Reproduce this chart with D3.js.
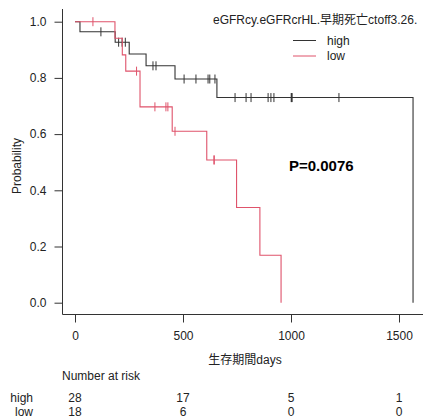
<!DOCTYPE html>
<html>
    <head>
        <meta charset="utf-8">
        <script src="https://d3js.org/d3.v7.min.js"></script>
        <style>
            body { margin: 0; background: #fff; }
            text { font-family: "Liberation Sans", Arial, "Noto Sans CJK JP", sans-serif; }
        </style>
    </head>
    <body>
    <script>
        // step points (time in days, survival)
        var highTimes = [0, 23, 186, 251, 329, 463, 657, 1565]
        var highSurv = [1.0, 0.964, 0.927, 0.885, 0.843, 0.796, 0.730, 0.0]
        var highCensor = [120, 202, 218, 233, 361, 375, 505, 560, 616, 624, 648, 741, 792, 815, 894, 907, 921, 1001, 1003, 1005, 1222]
        var lowTimes = [0, 185, 219, 235, 301, 450, 610, 748, 856, 954]
        var lowSurv = [1.0, 0.941, 0.882, 0.824, 0.697, 0.610, 0.508, 0.339, 0.169, 0.0]
        var lowCensor = [83, 285, 370, 421, 430, 463, 643, 645]

        var groups = ['high', 'low']
        var xTicks = [0, 500, 1000, 1500]
        var yTicks = [0, 0.2, 0.4, 0.6, 0.8, 1.0]
        var riskHigh = [28, 17, 5, 1]
        var riskLow = [18, 6, 0, 0]

        var w = 423
        var h = 417
        var colors = {high: '#333333', low: '#DF536B'}

        var svg = d3.select('body').append('svg')
            .attr('width', w)
            .attr('height', h)

        var xScale = d3.scaleLinear().domain([0, 1500]).range([75, 399])
        var yScale = d3.scaleLinear().domain([0, 1]).range([302.7, 21.7])

        // L-shaped frame
        svg.append('path')
            .attr('d', 'M62.5,9V314.5H' + w)
            .attr('stroke', '#333')
            .attr('fill', 'none')

        var yAxis = d3.axisLeft(yScale).tickValues(yTicks).tickFormat(d3.format('.1f')).tickSize(8).tickPadding(8)
        var gy = svg.append('g').attr('transform', 'translate(62.5,0)').call(yAxis)
        gy.select('.domain').remove()

        var xAxis = d3.axisBottom(xScale).tickValues(xTicks).tickFormat(d3.format('d')).tickSize(8).tickPadding(9)
        var gx = svg.append('g').attr('transform', 'translate(0,314.5)').call(xAxis)
        gx.select('.domain').remove()

        svg.selectAll('.tick text')
            .attr('font-size', 12)
            .attr('fill', '#222')
            .style('font-family', '"Liberation Sans", Arial, sans-serif')
        svg.selectAll('.tick line').attr('stroke', '#333')

        var line = d3.line()
            .x(function(d){ return xScale(d[0]) })
            .y(function(d){ return yScale(d[1]) })
            .curve(d3.curveStepAfter)

        function drawCurve(times, surv, censor, color){
            var pts = times.map(function(t, i){ return [t, surv[i]] })
            svg.append('path')
                .attr('d', line(pts))
                .attr('stroke', color)
                .attr('stroke-width', 1.1)
                .attr('fill', 'none')

            var stepAt = function(t){
                var i = d3.bisectRight(times, t) - 1
                return surv[i]
            }
            svg.selectAll(null).data(censor).enter().append('line')
                .attr('x1', function(d){ return xScale(d) })
                .attr('x2', function(d){ return xScale(d) })
                .attr('y1', function(d){ return yScale(stepAt(d)) - 4.5 })
                .attr('y2', function(d){ return yScale(stepAt(d)) + 4.5 })
                .attr('stroke', color)
                .attr('stroke-width', 1)
        }
        drawCurve(highTimes, highSurv, highCensor, colors.high)
        drawCurve(lowTimes, lowSurv, lowCensor, colors.low)

        // title and legend
        svg.append('text')
            .attr('x', 213).attr('y', 24)
            .attr('font-size', 12).attr('fill', '#222')
            .text('eGFRcy.eGFRcrHL.早期死亡ctoff3.26.')

        groups.forEach(function(g, i){
            var ly = 40.5 + i * 15.5
            svg.append('line')
                .attr('x1', 293).attr('x2', 316)
                .attr('y1', ly).attr('y2', ly)
                .attr('stroke', colors[g])
            svg.append('text')
                .attr('x', 327).attr('y', ly + 4.3)
                .attr('font-size', 12).attr('fill', '#222')
                .text(g)
        })

        svg.append('text')
            .attr('x', 289).attr('y', 170.5)
            .attr('font-size', 15).attr('font-weight', 'bold')
            .attr('fill', '#000')
            .text('P=0.0076')

        // axis titles
        svg.append('text')
            .attr('x', 245).attr('y', 364)
            .attr('text-anchor', 'middle')
            .attr('font-size', 12).attr('fill', '#222')
            .text('生存期間days')

        svg.append('text')
            .attr('transform', 'translate(21,166) rotate(-90)')
            .attr('text-anchor', 'middle')
            .attr('font-size', 12).attr('fill', '#222')
            .text('Probability')

        // number at risk
        svg.append('text')
            .attr('x', 62).attr('y', 380)
            .attr('font-size', 12).attr('fill', '#222')
            .text('Number at risk')

        var riskRows = [riskHigh, riskLow]
        groups.forEach(function(g, i){
            var ry = 401.5 + i * 14.5
            svg.append('text')
                .attr('x', 33).attr('y', ry)
                .attr('text-anchor', 'end')
                .attr('font-size', 12).attr('fill', '#222')
                .text(g)
            svg.selectAll(null).data(riskRows[i]).enter().append('text')
                .attr('x', function(d, j){ return xScale(xTicks[j]) })
                .attr('y', ry)
                .attr('text-anchor', 'middle')
                .attr('font-size', 12).attr('fill', '#222')
                .text(function(d){ return d })
        })
    </script>
    </body>
</html>
